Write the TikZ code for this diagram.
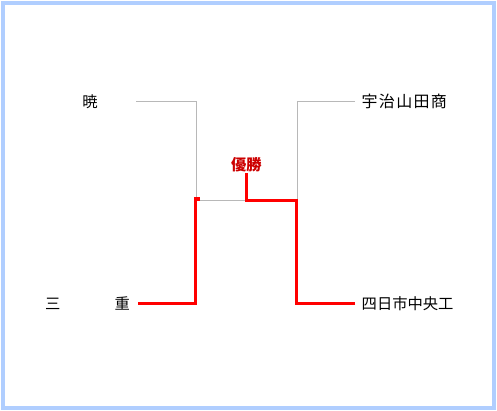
\documentclass[tikz,border=0pt]{standalone}
\usepackage{fontspec}
\setmainfont{Noto Sans CJK JP}
\usetikzlibrary{positioning}
\definecolor{framblue}{RGB}{176,206,255}
\definecolor{linegray}{RGB}{184,184,184}
\definecolor{winred}{RGB}{204,0,0}

\begin{document}
\begin{tikzpicture}[x=1pt,y=-1pt,
    team/.style={font=\fontsize{15.3}{17}\selectfont,inner sep=0pt},
    lost/.style={linegray,line width=1pt},
    won/.style={red,line width=3.5pt}]
    \useasboundingbox (0,0) rectangle (497,411);
    % the blue frame
    \draw[framblue,line width=4pt] (3,3) rectangle (494,408);

    \coordinate (a1) at (136,102); 
    \coordinate (a2) at (196,102);
    \coordinate (a3) at (196,200.5); 
    \coordinate (u1) at (355,101.5);
    \coordinate (u2) at (297,101.5); 
    \coordinate (u3) at (297,200.5);
    \coordinate (m1) at (138,303.5); 
    \coordinate (m2) at (195.3,303.5);
    \coordinate (m3) at (195.3,199); 
    \coordinate (m4) at (199.5,199);
    \coordinate (y1) at (355,303.5); 
    \coordinate (y2) at (296.3,303.5);
    \coordinate (y3) at (296.3,200.3); 
    \coordinate (y4) at (246.3,200.3);
    \coordinate (y5) at (246.3,173);

    % the team names
    \node[team] (akatsuki) at (90,101.5) {暁};
    \node[team,anchor=east] (mie) at (130,303.5) {三\hspace{54pt}重};
    \node[team,anchor=west,font=\fontsize{16}{17}\selectfont] (ujiyamada)
    at (361.5,101.5) {\addfontfeature{LetterSpace=8}宇治山田商};
    \node[team,anchor=west] (yokkaichi) at (361.5,303.5) {四日市中央工};
    \node[team,text=winred,font=\fontsize{15.3}{17}\selectfont\bfseries]
    (yusho) at (246.3,164.5) {優勝};

    % the gray lines
    \draw[lost] (a1) -- (a2) -- (a3) -- (u3);
    \draw[lost] (u1) -- (u2) -- (u3);
    % the red lines of the winner
    \draw[won] (m1) -- (m2) -- (m3) -- (m4);
    \draw[won] (y1) -- (y2) -- (y3) -- (y4) -- (y5);
\end{tikzpicture}
\end{document}
